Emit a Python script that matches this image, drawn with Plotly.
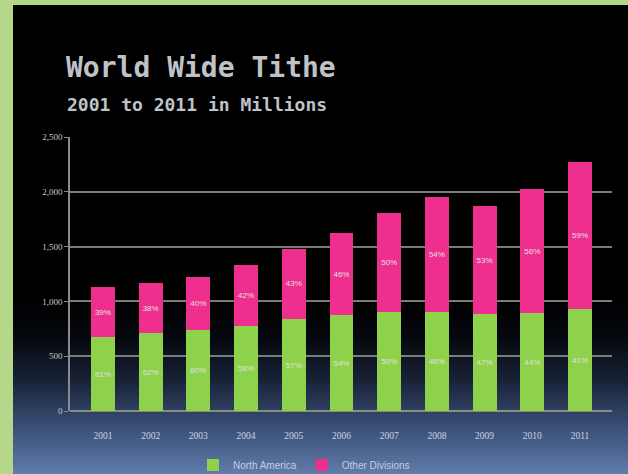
import plotly.graph_objects as go

years = ["2001", "2002", "2003", "2004", "2005", "2006", "2007", "2008", "2009", "2010", "2011"]
north_america = [673, 709, 736, 773, 836, 873, 900, 900, 882, 891, 927]
other_divisions = [454, 455, 491, 563, 646, 754, 909, 1055, 991, 1136, 1346]
na_pct = ["61%", "62%", "60%", "58%", "57%", "54%", "50%", "46%", "47%", "44%", "41%"]
other_pct = ["39%", "38%", "40%", "42%", "43%", "46%", "50%", "54%", "53%", "56%", "59%"]
y_ticks = [0, 500, 1000, 1500, 2000, 2500]

W, H = 628, 474
ML, MR, MT, MB = 70, 16, 137, 63
PW, PH = W - ML - MR, H - MT - MB


def px_x(px):
    return (px - ML) / PW


def px_y(py):
    return (H - MB - py) / PH


fig = go.Figure()
fig.add_trace(go.Bar(
    x=years, y=north_america, name="North America",
    marker=dict(color="#8ed14b", line=dict(width=0)),
    text=na_pct, textposition="inside", insidetextanchor="middle",
    textfont=dict(size=8, color="#e0e0e0", family="Liberation Sans"),
))
fig.add_trace(go.Bar(
    x=years, y=other_divisions, name="Other Divisions",
    marker=dict(color="#ee2f8e", line=dict(width=0)),
    text=other_pct, textposition="inside", insidetextanchor="middle",
    textfont=dict(size=8, color="#e0e0e0", family="Liberation Sans"),
))

# background gradient (black to steel blue toward the bottom)
stops = [(300, (0, 0, 0)), (340, (6, 9, 16)), (380, (24, 34, 54)),
         (420, (52, 73, 108)), (474, (96, 124, 172))]
shapes = []
step = 3
y = 300
while y < H:
    yc = y + step / 2
    for (y0, c0), (y1, c1) in zip(stops[:-1], stops[1:]):
        if y0 <= yc <= y1:
            t = (yc - y0) / (y1 - y0)
            col = tuple(int(round(a + (b - a) * t)) for a, b in zip(c0, c1))
            break
    shapes.append(dict(type="rect", xref="paper", yref="paper",
                       x0=px_x(0), x1=px_x(W), y0=px_y(y + step + 0.5), y1=px_y(y),
                       fillcolor="rgb(%d,%d,%d)" % col, line=dict(width=0), layer="below"))
    y += step
# green frame (left and top)
shapes.append(dict(type="rect", xref="paper", yref="paper",
                   x0=px_x(0), x1=px_x(13), y0=px_y(H), y1=px_y(0),
                   fillcolor="#b4d78a", line=dict(width=0), layer="below"))
shapes.append(dict(type="rect", xref="paper", yref="paper",
                   x0=px_x(0), x1=px_x(W), y0=px_y(5), y1=px_y(0),
                   fillcolor="#b4d78a", line=dict(width=0), layer="below"))

fig.update_layout(
    width=W, height=H, autosize=False,
    margin=dict(l=ML, r=MR, t=MT, b=MB, autoexpand=False),
    paper_bgcolor="#000000",
    plot_bgcolor="rgba(0,0,0,0)",
    barmode="stack",
    bargap=0.5,
    shapes=shapes,
    showlegend=True,
    legend=dict(orientation="h", traceorder="normal",
                x=px_x(304), xanchor="center", y=px_y(465), yanchor="middle",
                font=dict(size=10, color="#c4cde0", family="Liberation Sans"),
                bgcolor="rgba(0,0,0,0)", itemwidth=30),
    annotations=[
        dict(text="<b>World Wide Tithe</b>", xref="paper", yref="paper", x=px_x(64), y=px_y(68),
             xanchor="left", yanchor="middle", showarrow=False,
             font=dict(size=28, color="#bfc3c8", family="DejaVu Sans Mono")),
        dict(text="<b>2001 to 2011 in Millions</b>", xref="paper", yref="paper", x=px_x(65), y=px_y(104),
             xanchor="left", yanchor="middle", showarrow=False,
             font=dict(size=18, color="#bfc3c8", family="DejaVu Sans Mono")),
    ],
    xaxis=dict(
        range=[-0.69, 10.67], showgrid=False, zeroline=False, showline=False,
        ticks="", tickfont=dict(size=9.5, color="#ccd4e4", family="Liberation Serif"),
        ticklabelstandoff=17, automargin=False,
    ),
    yaxis=dict(
        range=[0, 2500], tickvals=y_ticks, tickformat=",", automargin=False,
        showgrid=True, gridcolor="#7c7c7c", gridwidth=1.5,
        zeroline=True, zerolinecolor="#8a8a8a", zerolinewidth=1.5,
        showline=True, linecolor="#8a8a8a", linewidth=1.5,
        ticks="outside", ticklen=4, tickcolor="#8a8a8a",
        tickfont=dict(size=9, color="#c8c8c8", family="Liberation Serif"),
    ),
)

fig.write_html(
    "out.html",
    config={"displayModeBar": False, "responsive": False},
    post_script=(
        "document.documentElement.style.overflow='hidden';"
        "document.body.style.margin='0';document.body.style.overflow='hidden';"
    ),
)
